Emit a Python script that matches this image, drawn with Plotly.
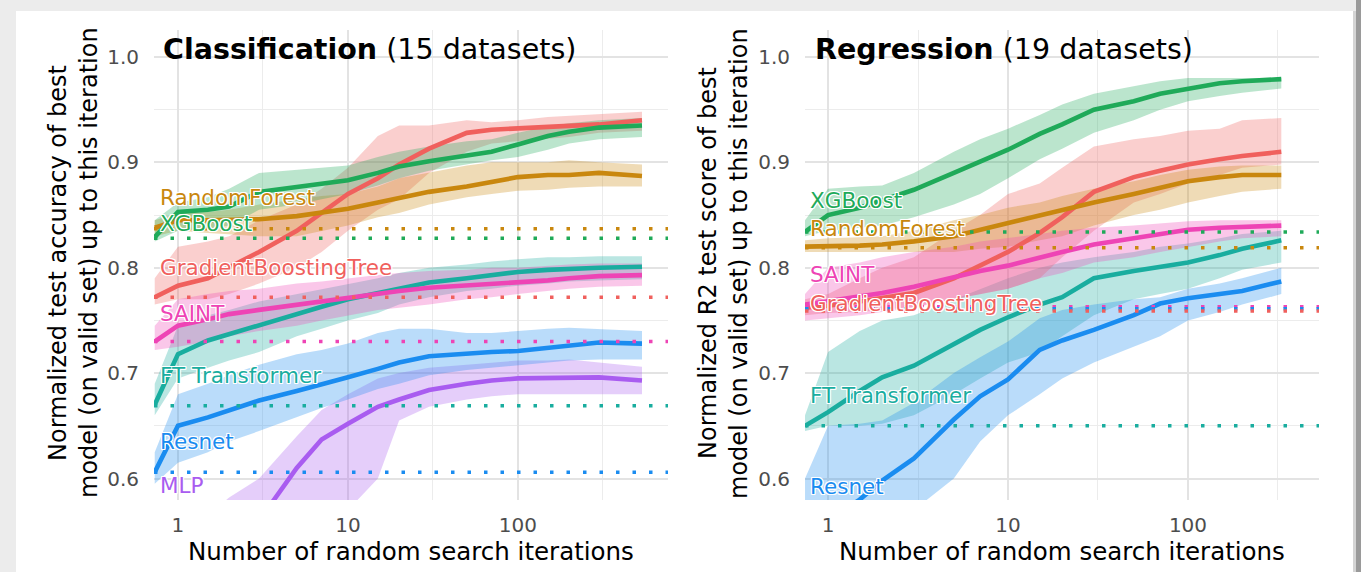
import plotly.graph_objects as go

# ---------------- DATA ----------------
# Classification panel (15 datasets)
cls_iters = [0.73, 1, 1.5, 2, 3, 5, 7, 10, 15, 20, 30, 50, 70, 100, 150, 200, 300, 537]

cls_xgb    = [0.829, 0.853, 0.855, 0.858, 0.872, 0.877, 0.880, 0.883, 0.890, 0.896, 0.901, 0.906, 0.910, 0.917, 0.925, 0.929, 0.933, 0.935]
cls_xgb_lo = [0.825, 0.835, 0.837, 0.840, 0.855, 0.860, 0.865, 0.870, 0.878, 0.885, 0.892, 0.898, 0.902, 0.905, 0.912, 0.918, 0.922, 0.924]
cls_xgb_hi = [0.845, 0.862, 0.867, 0.875, 0.890, 0.893, 0.895, 0.897, 0.905, 0.910, 0.915, 0.920, 0.922, 0.928, 0.934, 0.937, 0.940, 0.942]

cls_rf     = [0.838, 0.845, 0.845, 0.845, 0.846, 0.849, 0.852, 0.856, 0.862, 0.866, 0.872, 0.877, 0.881, 0.886, 0.888, 0.888, 0.890, 0.887]
cls_rf_lo  = [0.830, 0.835, 0.833, 0.832, 0.830, 0.830, 0.835, 0.840, 0.848, 0.852, 0.860, 0.867, 0.870, 0.873, 0.874, 0.876, 0.877, 0.877]
cls_rf_hi  = [0.845, 0.852, 0.853, 0.855, 0.860, 0.865, 0.868, 0.870, 0.877, 0.885, 0.890, 0.897, 0.900, 0.900, 0.900, 0.902, 0.900, 0.898]

cls_gbt    = [0.772, 0.783, 0.790, 0.800, 0.815, 0.835, 0.852, 0.870, 0.885, 0.898, 0.913, 0.928, 0.931, 0.932, 0.933, 0.934, 0.936, 0.940]
cls_gbt_lo = [0.765, 0.770, 0.770, 0.775, 0.785, 0.800, 0.815, 0.835, 0.855, 0.865, 0.890, 0.910, 0.918, 0.920, 0.922, 0.924, 0.928, 0.930]
cls_gbt_hi = [0.790, 0.820, 0.825, 0.830, 0.845, 0.860, 0.875, 0.895, 0.925, 0.935, 0.935, 0.940, 0.938, 0.940, 0.943, 0.944, 0.946, 0.948]

cls_saint    = [0.730, 0.745, 0.751, 0.756, 0.760, 0.765, 0.768, 0.771, 0.775, 0.778, 0.781, 0.783, 0.784, 0.786, 0.788, 0.790, 0.792, 0.793]
cls_saint_lo = [0.722, 0.725, 0.730, 0.735, 0.740, 0.745, 0.750, 0.755, 0.760, 0.762, 0.765, 0.770, 0.772, 0.775, 0.778, 0.780, 0.782, 0.783]
cls_saint_hi = [0.745, 0.770, 0.775, 0.778, 0.780, 0.785, 0.787, 0.790, 0.793, 0.795, 0.797, 0.798, 0.800, 0.800, 0.802, 0.803, 0.804, 0.804]

cls_ft    = [0.670, 0.718, 0.731, 0.737, 0.746, 0.757, 0.763, 0.770, 0.776, 0.781, 0.786, 0.790, 0.793, 0.796, 0.798, 0.799, 0.800, 0.801]
cls_ft_lo = [0.660, 0.695, 0.705, 0.712, 0.720, 0.735, 0.742, 0.750, 0.757, 0.765, 0.772, 0.778, 0.780, 0.783, 0.785, 0.787, 0.788, 0.789]
cls_ft_hi = [0.690, 0.745, 0.755, 0.760, 0.768, 0.775, 0.780, 0.785, 0.790, 0.795, 0.800, 0.803, 0.806, 0.808, 0.810, 0.810, 0.811, 0.811]

cls_resnet    = [0.606, 0.650, 0.658, 0.665, 0.674, 0.683, 0.689, 0.696, 0.704, 0.710, 0.716, 0.719, 0.720, 0.721, 0.724, 0.727, 0.729, 0.728]
cls_resnet_lo = [0.595, 0.615, 0.625, 0.635, 0.645, 0.658, 0.667, 0.675, 0.685, 0.690, 0.698, 0.703, 0.705, 0.707, 0.710, 0.712, 0.713, 0.713]
cls_resnet_hi = [0.625, 0.680, 0.690, 0.698, 0.708, 0.718, 0.722, 0.728, 0.738, 0.742, 0.742, 0.738, 0.738, 0.740, 0.742, 0.743, 0.742, 0.740]

cls_mlp    = [0.470, 0.490, 0.510, 0.530, 0.560, 0.610, 0.637, 0.652, 0.668, 0.675, 0.684, 0.690, 0.693, 0.695, 0.695, 0.696, 0.696, 0.693]
cls_mlp_lo = [0.400, 0.420, 0.440, 0.460, 0.490, 0.530, 0.555, 0.570, 0.600, 0.655, 0.668, 0.675, 0.678, 0.680, 0.680, 0.680, 0.680, 0.680]
cls_mlp_hi = [0.520, 0.540, 0.565, 0.582, 0.600, 0.640, 0.665, 0.680, 0.695, 0.700, 0.705, 0.708, 0.710, 0.712, 0.712, 0.713, 0.710, 0.706]

# default-hyperparameter scores (dotted lines)
cls_default = {"RandomForest": 0.837, "XGBoost": 0.828, "GradientBoostingTree": 0.772,
               "SAINT": 0.730, "FT Transformer": 0.669, "Resnet": 0.606}

# Regression panel (19 datasets)
reg_iters = [0.745, 1, 1.5, 2, 3, 5, 7, 10, 15, 20, 30, 50, 70, 100, 150, 200, 330]

reg_xgb    = [0.834, 0.850, 0.857, 0.864, 0.874, 0.890, 0.901, 0.912, 0.927, 0.936, 0.950, 0.958, 0.965, 0.970, 0.975, 0.977, 0.979]
reg_xgb_lo = [0.830, 0.835, 0.838, 0.840, 0.848, 0.860, 0.870, 0.885, 0.903, 0.913, 0.928, 0.940, 0.950, 0.958, 0.963, 0.966, 0.970]
reg_xgb_hi = [0.845, 0.875, 0.877, 0.878, 0.890, 0.910, 0.922, 0.932, 0.945, 0.955, 0.965, 0.972, 0.977, 0.980, 0.980, 0.980, 0.980]

reg_gbt    = [0.762, 0.764, 0.768, 0.771, 0.776, 0.790, 0.802, 0.815, 0.833, 0.848, 0.872, 0.886, 0.892, 0.898, 0.903, 0.906, 0.910]
reg_gbt_lo = [0.755, 0.757, 0.758, 0.760, 0.763, 0.770, 0.775, 0.780, 0.790, 0.810, 0.835, 0.862, 0.870, 0.880, 0.888, 0.895, 0.898]
reg_gbt_hi = [0.770, 0.775, 0.790, 0.800, 0.810, 0.835, 0.850, 0.870, 0.880, 0.895, 0.915, 0.922, 0.925, 0.930, 0.932, 0.940, 0.942]

reg_rf    = [0.820, 0.820, 0.821, 0.822, 0.825, 0.830, 0.836, 0.843, 0.850, 0.855, 0.862, 0.870, 0.876, 0.882, 0.886, 0.888, 0.888]
reg_rf_lo = [0.815, 0.815, 0.815, 0.815, 0.815, 0.815, 0.818, 0.820, 0.826, 0.830, 0.840, 0.850, 0.855, 0.862, 0.868, 0.872, 0.875]
reg_rf_hi = [0.826, 0.828, 0.829, 0.830, 0.835, 0.845, 0.850, 0.857, 0.862, 0.868, 0.875, 0.882, 0.888, 0.893, 0.896, 0.897, 0.897]

reg_saint    = [0.765, 0.768, 0.772, 0.776, 0.782, 0.791, 0.797, 0.802, 0.810, 0.815, 0.822, 0.828, 0.832, 0.836, 0.838, 0.839, 0.840]
reg_saint_lo = [0.750, 0.752, 0.755, 0.758, 0.762, 0.770, 0.775, 0.780, 0.790, 0.795, 0.805, 0.810, 0.815, 0.820, 0.825, 0.828, 0.830]
reg_saint_hi = [0.775, 0.800, 0.805, 0.810, 0.815, 0.820, 0.825, 0.828, 0.832, 0.835, 0.838, 0.840, 0.842, 0.844, 0.845, 0.845, 0.845]

reg_ft    = [0.650, 0.663, 0.683, 0.696, 0.707, 0.727, 0.741, 0.753, 0.765, 0.772, 0.790, 0.797, 0.801, 0.805, 0.812, 0.818, 0.826]
reg_ft_lo = [0.645, 0.650, 0.650, 0.652, 0.660, 0.680, 0.695, 0.710, 0.720, 0.735, 0.755, 0.770, 0.775, 0.780, 0.790, 0.798, 0.805]
reg_ft_hi = [0.660, 0.720, 0.740, 0.750, 0.755, 0.770, 0.780, 0.790, 0.800, 0.805, 0.810, 0.815, 0.820, 0.823, 0.828, 0.832, 0.835]

reg_resnet    = [0.545, 0.560, 0.580, 0.598, 0.619, 0.656, 0.678, 0.694, 0.722, 0.731, 0.741, 0.755, 0.766, 0.771, 0.775, 0.778, 0.787]
reg_resnet_lo = [0.500, 0.520, 0.540, 0.555, 0.570, 0.600, 0.635, 0.660, 0.680, 0.695, 0.710, 0.725, 0.735, 0.750, 0.758, 0.765, 0.775]
reg_resnet_hi = [0.600, 0.650, 0.652, 0.655, 0.672, 0.700, 0.715, 0.730, 0.752, 0.760, 0.765, 0.770, 0.772, 0.780, 0.785, 0.790, 0.800]

reg_default = {"XGBoost": 0.834, "RandomForest": 0.819, "SAINT": 0.763,
               "Resnet": 0.761, "GradientBoostingTree": 0.759, "FT Transformer": 0.650}

# ---------------- STYLE ----------------
COLORS = {
    "FT Transformer": "#19AD9F",
    "GradientBoostingTree": "#F0605D",
    "MLP": "#A95CF0",
    "RandomForest": "#C9870E",
    "Resnet": "#1A8CF0",
    "SAINT": "#EE44B5",
    "XGBoost": "#1FAA59",
}
FONT = "DejaVu Sans"


def rgba(hexc, a):
    h = hexc.lstrip("#")
    return "rgba(%d,%d,%d,%.3f)" % (int(h[0:2], 16), int(h[2:4], 16), int(h[4:6], 16), a)


cls_series = {
    "FT Transformer": (cls_ft, cls_ft_lo, cls_ft_hi),
    "GradientBoostingTree": (cls_gbt, cls_gbt_lo, cls_gbt_hi),
    "MLP": (cls_mlp, cls_mlp_lo, cls_mlp_hi),
    "RandomForest": (cls_rf, cls_rf_lo, cls_rf_hi),
    "Resnet": (cls_resnet, cls_resnet_lo, cls_resnet_hi),
    "SAINT": (cls_saint, cls_saint_lo, cls_saint_hi),
    "XGBoost": (cls_xgb, cls_xgb_lo, cls_xgb_hi),
}
reg_series = {
    "FT Transformer": (reg_ft, reg_ft_lo, reg_ft_hi),
    "GradientBoostingTree": (reg_gbt, reg_gbt_lo, reg_gbt_hi),
    "RandomForest": (reg_rf, reg_rf_lo, reg_rf_hi),
    "Resnet": (reg_resnet, reg_resnet_lo, reg_resnet_hi),
    "SAINT": (reg_saint, reg_saint_lo, reg_saint_hi),
    "XGBoost": (reg_xgb, reg_xgb_lo, reg_xgb_hi),
}

fig = go.Figure()


def add_panel(iters, series, xa, ya):
    for name, (m, lo, hi) in series.items():
        c = COLORS[name]
        fig.add_trace(go.Scatter(x=iters, y=lo, mode="lines", line=dict(width=0, color=c),
                                 xaxis=xa, yaxis=ya, showlegend=False, hoverinfo="skip"))
        fig.add_trace(go.Scatter(x=iters, y=hi, mode="lines", line=dict(width=0, color=c),
                                 fill="tonexty", fillcolor=rgba(c, 0.30),
                                 xaxis=xa, yaxis=ya, showlegend=False, hoverinfo="skip"))
    for name, (m, lo, hi) in series.items():
        fig.add_trace(go.Scatter(x=iters, y=m, mode="lines", name=name,
                                 line=dict(width=4.6, color=COLORS[name]),
                                 xaxis=xa, yaxis=ya, showlegend=False))


add_panel(cls_iters, cls_series, "x", "y")
add_panel(reg_iters, reg_series, "x2", "y2")

shapes = []
# background card
shapes.append(dict(type="rect", xref="paper", yref="paper", x0=16/1361, x1=1353/1361, y0=-0.01, y1=561/572,
                   fillcolor="white", line=dict(width=0), layer="below"))
shapes.append(dict(type="rect", xref="paper", yref="paper", x0=1353/1361, x1=1356/1361, y0=-0.01, y1=561/572,
                   fillcolor="#d4d4d4", line=dict(width=0), layer="below"))
shapes.append(dict(type="rect", xref="paper", yref="paper", x0=1356/1361, x1=1.01, y0=-0.01, y1=1.01,
                   fillcolor="#9a9a9a", line=dict(width=0), layer="below"))

for defaults, xd, yd in [(cls_default, "x domain", "y"), (reg_default, "x2 domain", "y2")]:
    for name, v in defaults.items():
        shapes.append(dict(type="line", xref=xd, yref=yd, x0=0, x1=1, y0=v, y1=v,
                           line=dict(color=COLORS[name], width=3.5, dash="3.5px,13px"), layer="above"))

SHADOW = "1px 1px 0 #fff, -1px -1px 0 #fff, 1px -1px 0 #fff, -1px 1px 0 #fff, 0 1px 0 #fff, 0 -1px 0 #fff, 1px 0 0 #fff, -1px 0 0 #fff"

ann = []
cls_label_pos = {"RandomForest": 0.867, "XGBoost": 0.842, "GradientBoostingTree": 0.800,
                 "SAINT": 0.757, "FT Transformer": 0.698, "Resnet": 0.635, "MLP": 0.593}
reg_label_pos = {"XGBoost": 0.864, "RandomForest": 0.837, "SAINT": 0.794,
                 "GradientBoostingTree": 0.766, "FT Transformer": 0.679, "Resnet": 0.592}
for pos, xd, yd, x0 in [(cls_label_pos, "x domain", "y", 0.008), (reg_label_pos, "x2 domain", "y2", 0.006)]:
    for name, yv in pos.items():
        ann.append(dict(text=name, xref=xd, yref=yd, x=x0, y=yv, xanchor="left", yanchor="middle",
                        showarrow=False, font=dict(family=FONT, size=21.5, color=COLORS[name], shadow=SHADOW)))

# panel titles
ann.append(dict(text="<b>Classification</b> (15 datasets)", xref="paper", yref="paper", x=161/1361, y=(572-50)/572,
                xanchor="left", yanchor="middle", showarrow=False, font=dict(family=FONT, size=28.5, color="black")))
ann.append(dict(text="<b>Regression</b> (19 datasets)", xref="paper", yref="paper", x=813/1361, y=(572-50)/572,
                xanchor="left", yanchor="middle", showarrow=False, font=dict(family=FONT, size=28.5, color="black")))
# x axis titles
for cx in [411, 1062]:
    ann.append(dict(text="Number of random search iterations", xref="paper", yref="paper", x=cx/1361, y=(572-551)/572,
                    xanchor="center", yanchor="middle", showarrow=False, font=dict(family=FONT, size=24.5, color="black")))
# y axis titles
ytitles = [
    ("Normalized test accuracy of best", 58),
    ("model (on valid set) up to this iteration", 89),
    ("Normalized R2 test score of best", 708),
    ("model (on valid set) up to this iteration", 739),
]
for t, cx in ytitles:
    ann.append(dict(text=t, xref="paper", yref="paper", x=cx/1361, y=(572-263)/572, textangle=-90,
                    xanchor="center", yanchor="middle", showarrow=False, font=dict(family=FONT, size=24, color="black")))

GRID = "#e3e3e3"
ydom = [72/572, 542/572]
yax = dict(range=[0.5796, 1.0256], tickvals=[0.6, 0.7, 0.8, 0.9, 1.0], ticktext=["0.6", "0.7", "0.8", "0.9", "1.0"],
           showgrid=True, gridcolor=GRID, gridwidth=1.6, zeroline=False, showline=False,
           ticks="outside", ticklen=10, tickcolor="rgba(0,0,0,0)",
           tickfont=dict(family=FONT, size=20, color="#4d4d4d"),
           minor=dict(tickvals=[0.65, 0.75, 0.85, 0.95], showgrid=True, gridcolor="#ececec", gridwidth=1.1),
           domain=ydom)
xax_common = dict(type="log", tickvals=[1, 10, 100], ticktext=["1", "10", "100"],
                  showgrid=True, gridcolor=GRID, gridwidth=1.6, zeroline=False, showline=False,
                  ticks="outside", ticklen=7, tickcolor="rgba(0,0,0,0)",
                  tickfont=dict(family=FONT, size=20, color="#4d4d4d"),
                  minor=dict(tickvals=[3.1623, 31.623, 316.23], showgrid=True, gridcolor="#ececec", gridwidth=1.1))

fig.update_layout(
    width=1361, height=572, margin=dict(l=0, r=0, t=0, b=0),
    paper_bgcolor="#ececec", plot_bgcolor="white",
    showlegend=False,
    xaxis=dict(xax_common, range=[-0.141, 2.883], domain=[154/1361, 668/1361], anchor="y"),
    yaxis=dict(yax, anchor="x"),
    xaxis2=dict(xax_common, range=[-0.128, 2.728], domain=[805/1361, 1319/1361], anchor="y2"),
    yaxis2=dict(yax, anchor="x2"),
    shapes=shapes, annotations=ann,
    font=dict(family=FONT),
)

fig.write_html("out.html", config={"displayModeBar": False},
               post_script="document.body.style.margin='0px';document.body.style.overflow='hidden';")
